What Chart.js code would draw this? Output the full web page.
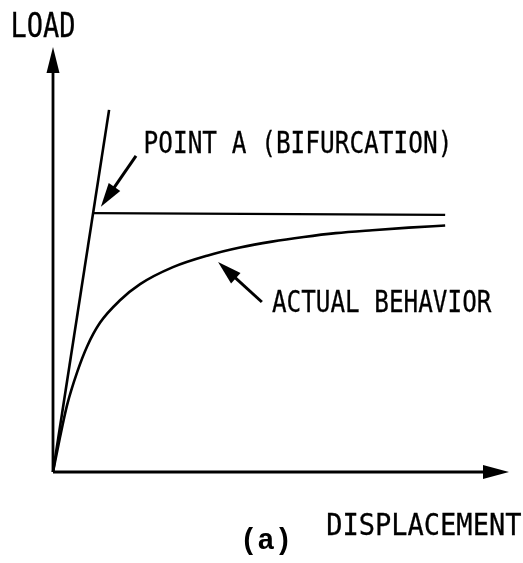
<!DOCTYPE html>
<html>
<head>
  <meta charset="UTF-8">
  <title>Load vs Displacement</title>
  <script src="https://cdn.jsdelivr.net/npm/chart.js"></script>
  <style>
    html, body { margin: 0; padding: 0; background: #fff; }
    .chart-container { width: 523px; height: 563px; }
  </style>
</head>
<body>
  <div class="chart-container">
    <canvas id="loadChart"></canvas>
  </div>

  <script>
    // values (arbitrary units, 0..100 on both axes)
    const elasticDisp = [0, 12.3];
    const elasticLoad = [0, 85.2];

    const bifurcDisp = [8.8, 86.0];
    const bifurcLoad = [60.9, 60.5];

    const actualDisp = [0, 1.5, 3.1, 5.3, 7.5, 10.3, 14.7, 19.1, 26.3, 33.8, 41.0, 48, 55, 62, 70, 78, 86];
    const actualLoad = [0, 8.0, 15.8, 23.5, 29.6, 35.1, 40.4, 44.2, 48.2, 50.9, 52.8, 54.2, 55.3, 56.2, 56.9, 57.5, 58.0];

    const axisEnd = 100;

    // text labels: [text, x, y, width, font px] in data units (left edge, baseline, ink width)
    const labels = [
      ['LOAD', -8.8, 102.4, 13.4, 33],
      ['POINT A (BIFURCATION)', 20.2, 75.1, 66.4, 31],
      ['ACTUAL BEHAVIOR', 48.0, 37.6, 48.2, 31],
      ['DISPLACEMENT', 60.3, -14.8, 42.3, 31]
    ];
    const caption = ['(a)', 41.0, -18.0];

    // pointer arrows: [fromX, fromY, tipX, tipY]
    const pointers = [
      [18.2, 74.4, 10.5, 62.4],
      [45.8, 40.0, 36.2, 49.4]
    ];

    const toXY = (xs, ys) => xs.map((x, i) => ({ x: x, y: ys[i] }));

    function arrowHead(ctx, x0, y0, x1, y1, len, w) {
      const a = Math.atan2(y1 - y0, x1 - x0);
      ctx.save();
      ctx.translate(x1, y1);
      ctx.rotate(a);
      ctx.beginPath();
      ctx.moveTo(0, 0);
      ctx.lineTo(-len, -w / 2);
      ctx.lineTo(-len, w / 2);
      ctx.closePath();
      ctx.fill();
      ctx.restore();
    }

    const sketchPlugin = {
      id: 'sketch',
      afterDatasetsDraw(chart) {
        const ctx = chart.ctx;
        const xs = chart.scales.x, ys = chart.scales.y;
        const pxPerX = Math.abs(xs.getPixelForValue(1) - xs.getPixelForValue(0));
        ctx.save();
        ctx.fillStyle = '#000';
        ctx.strokeStyle = '#000';

        // axis arrowheads
        arrowHead(ctx, xs.getPixelForValue(0), ys.getPixelForValue(0),
          xs.getPixelForValue(axisEnd), ys.getPixelForValue(0), 26, 14);
        arrowHead(ctx, xs.getPixelForValue(0), ys.getPixelForValue(0),
          xs.getPixelForValue(0), ys.getPixelForValue(axisEnd), 26, 13);

        // pointer arrows
        ctx.lineWidth = 3;
        pointers.forEach(p => {
          const x0 = xs.getPixelForValue(p[0]), y0 = ys.getPixelForValue(p[1]);
          const x1 = xs.getPixelForValue(p[2]), y1 = ys.getPixelForValue(p[3]);
          const a = Math.atan2(y1 - y0, x1 - x0);
          ctx.beginPath();
          ctx.moveTo(x0, y0);
          ctx.lineTo(x1 - Math.cos(a) * 16, y1 - Math.sin(a) * 16);
          ctx.stroke();
          arrowHead(ctx, x0, y0, x1, y1, 24, 14);
        });

        // condensed labels, squeezed to the sketch's widths
        ctx.textBaseline = 'alphabetic';
        ctx.lineWidth = 0.3;
        labels.forEach(l => {
          ctx.font = l[4] + 'px "DejaVu Sans Mono"';
          const m = ctx.measureText(l[0]);
          const ink = m.actualBoundingBoxRight + m.actualBoundingBoxLeft;
          const sx = (l[3] * pxPerX) / ink;
          ctx.save();
          ctx.translate(xs.getPixelForValue(l[1]), ys.getPixelForValue(l[2]));
          ctx.scale(sx, 1);
          ctx.fillText(l[0], m.actualBoundingBoxLeft, 0);
          ctx.strokeText(l[0], m.actualBoundingBoxLeft, 0);
          ctx.restore();
        });

        ctx.font = 'bold 29px "Liberation Mono"';
        ctx.fillText(caption[0], xs.getPixelForValue(caption[1]), ys.getPixelForValue(caption[2]));
        ctx.restore();
      }
    };

    const lineStyle = (w) => ({
      borderColor: '#000',
      borderWidth: w,
      pointRadius: 0,
      showLine: true,
      fill: false,
      clip: false
    });

    const ctx = document.getElementById('loadChart').getContext('2d');
    new Chart(ctx, {
      type: 'scatter',
      data: {
        datasets: [
          Object.assign({ label: 'x axis', data: toXY([0, axisEnd - 5], [0, 0]) }, lineStyle(2.8)),
          Object.assign({ label: 'y axis', data: toXY([0, 0], [0, axisEnd - 5]) }, lineStyle(2.8)),
          Object.assign({ label: 'elastic', data: toXY(elasticDisp, elasticLoad) }, lineStyle(2.6)),
          Object.assign({ label: 'bifurcation', data: toXY(bifurcDisp, bifurcLoad) }, lineStyle(2.4)),
          Object.assign({ label: 'actual behavior', data: toXY(actualDisp, actualLoad), cubicInterpolationMode: 'monotone' }, lineStyle(2.6))
        ]
      },
      options: {
        responsive: true,
        maintainAspectRatio: false,
        animation: false,
        events: [],
        layout: { padding: { left: 53, right: 14, top: 47, bottom: 91 } },
        plugins: {
          legend: { display: false },
          tooltip: { enabled: false }
        },
        scales: {
          x: { type: 'linear', min: 0, max: 100, display: false },
          y: { type: 'linear', min: 0, max: 100, display: false }
        }
      },
      plugins: [sketchPlugin]
    });
  </script>
</body>
</html>
